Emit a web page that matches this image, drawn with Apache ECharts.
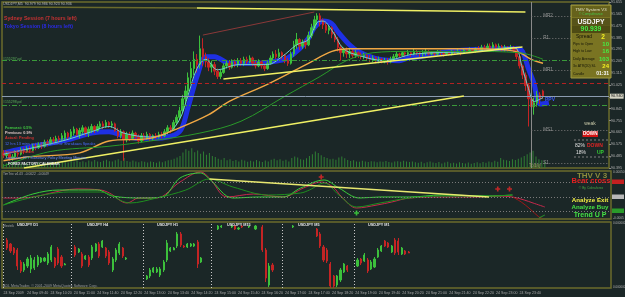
<!DOCTYPE html>
<html><head><meta charset="utf-8">
<script src="https://cdn.jsdelivr.net/npm/echarts@6/dist/echarts.min.js"></script>
<style>html,body{margin:0;padding:0;background:#1b2727;}#c{width:625px;height:297px;}</style>
</head><body><div id="c"></div>
<script>
// ---------- DATA ----------
const timeLabels = ["24 Sep 2009","24 Sep 09:40","24 Sep 10:20","24 Sep 11:00","24 Sep 11:40","24 Sep 12:20","24 Sep 13:00","24 Sep 13:40","24 Sep 14:20","24 Sep 15:00","24 Sep 15:40","24 Sep 16:20","24 Sep 17:00","24 Sep 17:40","24 Sep 18:20","24 Sep 19:00","24 Sep 19:40","24 Sep 20:20","24 Sep 21:00","24 Sep 21:40","24 Sep 22:20","24 Sep 23:00","24 Sep 23:40"];
const priceTicks = {min: 90.395, max: 91.655, step: 0.09};
// M5 bars [open, close, low, high]
const mainBars = [
[90.51,90.49,90.47,90.53],[90.49,90.50,90.47,90.52],[90.50,90.47,90.45,90.51],[90.47,90.48,90.45,90.50],[90.48,90.51,90.47,90.53],
[90.51,90.50,90.48,90.53],[90.50,90.53,90.49,90.55],[90.53,90.52,90.50,90.55],[90.52,90.54,90.51,90.56],[90.54,90.53,90.51,90.56],
[90.53,90.56,90.52,90.58],[90.56,90.55,90.53,90.58],[90.55,90.57,90.54,90.59],[90.57,90.56,90.54,90.59],[90.56,90.59,90.55,90.61],
[90.59,90.58,90.56,90.61],[90.58,90.61,90.57,90.63],[90.61,90.60,90.58,90.63],[90.60,90.62,90.59,90.64],[90.62,90.61,90.59,90.64],
[90.61,90.64,90.60,90.66],
[90.62,90.66,90.60,90.68],[90.66,90.63,90.61,90.67],[90.63,90.67,90.62,90.69],[90.66,90.69,90.64,90.71],[90.69,90.65,90.63,90.70],
[90.65,90.68,90.62,90.70],[90.67,90.70,90.65,90.72],[90.70,90.66,90.64,90.71],[90.66,90.69,90.63,90.71],[90.68,90.71,90.66,90.73],
[90.71,90.68,90.66,90.72],[90.68,90.71,90.67,90.73],[90.71,90.73,90.69,90.75],[90.73,90.71,90.69,90.75],
[90.71,90.74,90.70,90.76],[90.74,90.72,90.70,90.75],[90.72,90.73,90.70,90.75],
[90.73,90.68,90.67,90.74],[90.68,90.64,90.62,90.70],[90.64,90.67,90.62,90.69],[90.67,90.61,90.45,90.68],[90.61,90.65,90.59,90.67],
[90.65,90.62,90.60,90.67],[90.62,90.66,90.61,90.68],[90.66,90.63,90.61,90.67],[90.63,90.60,90.58,90.65],[90.60,90.64,90.59,90.66],
[90.64,90.62,90.60,90.66],[90.62,90.65,90.61,90.67],[90.65,90.63,90.60,90.66],
[90.62,90.64,90.60,90.65],[90.64,90.63,90.61,90.66],[90.63,90.65,90.62,90.67],[90.65,90.64,90.62,90.67],[90.64,90.67,90.63,90.69],
[90.67,90.70,90.65,90.72],[90.70,90.69,90.66,90.72],[90.69,90.74,90.68,90.76],[90.74,90.78,90.72,90.80],[90.78,90.83,90.76,90.86],
[90.83,90.92,90.81,90.95],[90.92,90.98,90.88,91.02],[90.98,91.08,90.95,91.12],[91.08,91.15,91.03,91.20],[91.15,91.22,91.10,91.28],[91.22,91.18,91.12,91.26],
[91.18,91.30,91.15,91.40],[91.30,91.24,91.17,91.38],
[91.24,91.20,91.16,91.27],[91.20,91.16,91.13,91.23],[91.16,91.18,91.12,91.21],[91.18,91.13,91.10,91.20],[91.13,91.09,91.07,91.15],[91.09,91.12,91.07,91.14],
[91.12,91.17,91.11,91.19],[91.17,91.19,91.15,91.21],[91.19,91.16,91.14,91.21],[91.16,91.20,91.15,91.22],[91.20,91.18,91.16,91.22],[91.18,91.21,91.16,91.23],[91.21,91.19,91.17,91.23],
[91.19,91.22,91.17,91.24],[91.22,91.20,91.18,91.24],[91.20,91.23,91.19,91.25],[91.23,91.19,91.17,91.24],[91.19,91.17,91.15,91.21],[91.17,91.20,91.16,91.22],[91.20,91.17,91.15,91.21],[91.17,91.15,91.13,91.19],[91.15,91.19,91.14,91.21],
[91.19,91.23,91.18,91.25],[91.23,91.26,91.21,91.28],[91.26,91.24,91.22,91.29],[91.24,91.27,91.23,91.30],[91.27,91.25,91.22,91.28],
[91.25,91.21,91.19,91.26],[91.21,91.19,91.17,91.23],
[91.19,91.26,91.18,91.28],[91.26,91.33,91.24,91.36],[91.33,91.37,91.30,91.42],
[91.37,91.32,91.29,91.38],[91.32,91.35,91.30,91.37],[91.35,91.33,91.30,91.37],
[91.33,91.40,91.32,91.43],[91.40,91.46,91.38,91.49],[91.46,91.52,91.44,91.55],[91.52,91.55,91.48,91.57],[91.55,91.51,91.47,91.57],
[91.51,91.48,91.45,91.53],[91.48,91.44,91.42,91.50],[91.44,91.46,91.41,91.48],[91.46,91.41,91.38,91.47],[91.41,91.37,91.35,91.43],
[91.37,91.31,91.28,91.39],[91.31,91.27,91.21,91.33],[91.27,91.29,91.24,91.31],
[91.29,91.26,91.23,91.31],[91.26,91.28,91.23,91.30],[91.28,91.25,91.23,91.30],[91.25,91.27,91.23,91.29],
[91.27,91.25,91.23,91.28],[91.25,91.24,91.22,91.27],[91.24,91.25,91.22,91.27],[91.25,91.23,91.21,91.26],[91.23,91.22,91.20,91.25],[91.22,91.23,91.20,91.25],[91.23,91.21,91.19,91.24],
[91.21,91.22,91.19,91.24],[91.22,91.20,91.19,91.23],[91.20,91.21,91.19,91.23],[91.21,91.20,91.18,91.23],[91.20,91.22,91.19,91.24],
[91.22,91.24,91.21,91.26],[91.24,91.26,91.23,91.28],[91.26,91.25,91.23,91.27],[91.25,91.27,91.24,91.28],[91.27,91.26,91.24,91.28],
[91.26,91.27,91.25,91.29],[91.27,91.26,91.24,91.28],[91.26,91.28,91.25,91.30],[91.28,91.27,91.25,91.29],[91.27,91.26,91.24,91.28],[91.26,91.27,91.24,91.29],[91.27,91.28,91.25,91.30],[91.28,91.26,91.25,91.29],[91.26,91.27,91.25,91.28],[91.27,91.26,91.24,91.28],[91.26,91.28,91.25,91.29],[91.28,91.27,91.25,91.29],[91.27,91.26,91.24,91.28],
[91.26,91.27,91.25,91.28],[91.27,91.26,91.25,91.28],[91.26,91.28,91.25,91.29],[91.28,91.27,91.26,91.29],[91.27,91.28,91.26,91.30],[91.28,91.27,91.25,91.29],[91.27,91.29,91.26,91.30],[91.29,91.28,91.27,91.30],[91.28,91.29,91.27,91.31],[91.29,91.28,91.27,91.30],
[91.28,91.30,91.27,91.31],[91.30,91.29,91.28,91.32],[91.29,91.31,91.28,91.33],[91.31,91.30,91.28,91.33],[91.30,91.32,91.29,91.34],[91.32,91.31,91.29,91.34],[91.31,91.33,91.30,91.35],[91.33,91.31,91.29,91.34],[91.31,91.32,91.30,91.34],[91.32,91.30,91.28,91.33],
[91.30,91.31,91.28,91.33],[91.31,91.30,91.28,91.32],[91.30,91.31,91.29,91.33],[91.31,91.29,91.27,91.32],
[91.29,91.24,91.22,91.30],[91.24,91.17,91.15,91.25],[91.17,91.10,91.07,91.18],
[91.10,91.02,90.98,91.12],[91.02,90.92,90.71,91.04],[90.92,90.86,90.66,90.95],[90.86,90.89,90.80,90.93],[90.89,90.95,90.86,90.98],[90.95,90.92,90.88,90.97],[90.98,90.94,90.92,90.99]
];
const volumes = [18,22,15,20,25,17,21,19,24,16,22,20,26,18,23,21,27,19,24,22,28,
30,25,33,28,35,27,31,26,34,29,36,30,27,33,38,31,29,35,40,33,
45,32,28,34,30,26,31,28,25,30,27,24,29,26,31,35,38,42,48,
55,70,85,78,90,72,80,65,75,60,68,55,50,
42,38,45,35,40,32,36,30,38,34,28,33,30,36,31,27,34,29,38,42,35,40,33,37,30,45,52,48,
40,38,44,55,62,75,68,58,
50,45,40,42,38,48,52,44,36,32,35,30,28,33,30,27,31,29,26,30,28,32,27,25,29,31,28,33,30,27,29,26,
24,28,22,26,30,25,23,27,21,25,28,22,24,20,26,23,21,25,19,23,26,22,27,24,30,26,33,28,
45,38,35,32,40,36,42,48,55,62,70,78,52,40,35,30];
// indicator lines on the price chart, [bar, price]
const blueBand = [[0,90.51],[6,90.54],[22,90.61],[30,90.66],[36,90.67],[41,90.64],[46,90.62],[52,90.62],[60,90.67],[63,90.86],[66,91.09],[69,91.24],[72,91.24],[77,91.19],[87,91.19],[94,91.21],[97,91.23],[101,91.30],[104,91.38],[106,91.46],[109,91.51],[112,91.49],[114,91.43],[118,91.33],[121,91.28],[128,91.22],[135,91.21],[138,91.23],[142,91.24],[152,91.28],[169,91.30],[175,91.30],[177,91.28],[179,91.15],[181,91.03],[182,90.92],[183,90.88],[186,90.89]];
const cyanMA = [[0,90.50],[20,90.60],[30,90.67],[36,90.71],[41,90.66],[50,90.63],[56,90.66],[60,90.76],[63,90.95],[66,91.15],[69,91.22],[73,91.14],[80,91.18],[90,91.18],[95,91.24],[100,91.33],[104,91.37],[107,91.50],[109,91.51],[112,91.44],[116,91.30],[121,91.25],[130,91.21],[140,91.26],[160,91.28],[174,91.31],[177,91.15],[179,91.00],[181,90.90],[184,90.93]];
const orangeMA = [[0,90.45],[9,90.48],[26,90.51],[36,90.60],[50,90.62],[60,90.70],[70,90.80],[77,90.90],[90,91.03],[104,91.19],[112,91.28],[118,91.30],[135,91.30],[159,91.30],[172,91.29],[176,91.27],[180,91.22],[184,91.19]];
const greenMA = [[0,90.41],[16,90.52],[36,90.56],[50,90.60],[67,90.66],[81,90.75],[96,90.94],[108,91.09],[117,91.21],[126,91.27],[138,91.28],[159,91.28],[176,91.27],[184,91.22]];
const trendLow = [[7,90.395],[157,90.941]];
const trendMid = [[75,91.070],[177,91.313]];
const trendTop = [[66,91.609],[178,91.579]];
const trendTopLeft = [[0,91.617],[66,91.609]];
const channelRed = [[68,91.404],[106,91.579]];
const levels = {green1: 91.207, red1: 91.040, price: 90.940, green2: 90.866};
const pivots = [["MR2",91.549],["R1",91.382],["MR1",91.139],["MS1",90.683],["S1",90.433]];
const dayStart = 180;
// oscillator pane, [bar, value]
const oscRed = [[0,-1],[6,-1],[25,8],[33,7],[36,4],[42,-6],[46,-1],[52,-1],[60,15],[67,25],[70,19],[76,0],[85,3],[95,0],[102,9],[108,15],[112,10],[115,0],[120,-11],[127,-8],[132,-5],[138,-1],[149,0],[161,0],[168,1],[173,0],[177,-3],[180,-6],[184,-10]];
const oscDarkRed = [[173,0],[176,-5],[179,-12],[182,-20],[183,-21]];
const oscGreen = [[0,-8],[10,3],[19,7],[32,7],[37,1],[47,-1],[54,0],[60,19],[67,24],[70,18],[78,-1],[87,0],[95,0],[101,9],[109,17],[114,9],[121,-1],[128,0],[138,0],[149,2],[165,1],[173,2]];
const oscGreen2 = [[0,-8],[22,5],[33,5],[43,-6],[52,-1],[62,7],[70,18],[78,10],[90,2],[101,4],[104,7],[109,14],[114,2],[120,-10],[128,-6],[138,-1],[149,1],[165,1],[173,2]];
const oscGreenTail = [[182,-21],[184,-18]];
const oscYellow = [[70,18],[165,0]];
const redCrosses = [[108,20],[168,8],[172,8]];
const greenCrosses = [[120,-16]];
const oscLevels = [15,0,-14];
// multi-timeframe mini bars [open, close, low, high]
const miniD1 = [[48,40,38,50],[44,37,35,45],[40,35,33,41],[38,22,18,40],[26,17,15,28],[18,24,16,26],[22,29,20,31],[19,30,15,33],[20,28,18,31],[23,31,21,33],[26,30,25,31],[27,30,26,31],[25,34,23,36],[28,41,26,43],[30,22,20,31],[39,25,23,41],[31,22,20,33],[23,24,23,25]];
const miniH4 = [[41,33,31,43],[36,39,35,40],[34,22,20,36],[29,32,28,33],[31,23,21,33],[30,41,28,43],[37,44,36,45],[44,32,30,46],[41,47,40,48],[40,32,30,41],[36,25,23,38],[18,29,16,31],[28,38,26,40],[35,44,33,46],[40,32,30,41],[29,30,28,31]];
const miniH1 = [[9,12,8,13],[12,18,10,20],[16,20,15,21],[16,19,15,21],[13,19,11,21],[18,26,16,28],[28,45,26,48],[37,40,36,41],[38,40,38,41],[42,54,40,56],[54,43,41,56],[42,41,40,43],[41,44,40,45],[42,44,41,45],[42,44,41,45],[46,24,20,48],[26,30,25,31]];
const miniM15 = [[59,62,58,63],[61,62,60,63],null,null,[61,62,60,63],[62,59,58,63],[59,60,58,61],[62,61,60,63],null,[61,62,60,62],null,[59,62,58,63],null,[61,38,36,63],[38,10,6,40],[3,22,1,25],[23,18,16,25]];
const miniM5 = [[61,62,60,63],null,null,null,null,null,null,[59,52,51,60],[54,42,40,56],[41,28,26,43],[38,27,25,40],[24,2,0,26],[12,2,0,13],[3,12,1,13],[8,18,6,20],[16,24,15,25],[22,18,16,23]];
const miniM1 = [[22,28,21,30],[29,25,23,30],[27,33,26,35],[28,17,15,30],[19,26,18,28],[21,29,20,31],[31,38,30,40],[37,42,36,43],[47,42,41,48],[45,41,40,46],[36,42,35,43],[48,35,33,50],[47,36,33,50],[34,40,33,41],[37,34,33,38],[36,35,35,37]];
const miniNames = ["USDJPY D1","USDJPY H4","USDJPY H1","USDJPY M15","USDJPY M5","USDJPY M1"];

// ---------- LAYOUT / BUILD ----------
const N = 207, MINI_N = 179;
const cats = Array.from({length:N},(_,i)=>i);
const miniCats = Array.from({length:MINI_N},(_,i)=>i);
const miniStarts = [1,21,42,63,85,104];
const miniSep = [0,20,41,61,82,103];
const miniItems = [];
[miniD1,miniH4,miniH1,miniM15,miniM5,miniM1].forEach((arr,k)=>{
  arr.forEach((b,j)=>{ if(b) miniItems.push([miniStarts[k]+j, b[0], b[1], b[2], b[3]]); });
});
const UP='#3cc03c', DN='#c42424';
const FF='Liberation Sans, Arial, sans-serif';
function T(x,y,text,fill,size,weight,align){return {type:'text',x:x,y:y,silent:true,z:100,style:{text:text,fill:fill,fontSize:size,fontWeight:weight||'normal',fontFamily:FF,align:align||'left',verticalAlign:'middle'}};}
function R(x,y,w,h,fill,stroke){return {type:'rect',silent:true,z:95,shape:{x:x,y:y,width:w,height:h},style:{fill:fill,stroke:stroke||null,lineWidth:1}};}
function L(x1,y1,x2,y2,stroke,dash){return {type:'line',silent:true,z:95,shape:{x1:x1,y1:y1,x2:x2,y2:y2},style:{stroke:stroke,lineWidth:1,lineDash:dash||null}};}
function line(data,color,width,xi,yi,z,smooth){return {type:'line',data:data,xAxisIndex:xi,yAxisIndex:yi,showSymbol:false,smooth:smooth===undefined?0.35:smooth,z:z||4,silent:true,animation:false,lineStyle:{color:color,width:width}};}

const pivotLines = pivots.map(p=>[
  {coord:[dayStart,p[1]],lineStyle:{color:'#7a7a7a',type:[1,2],width:1},label:{show:true,position:'insideStart',distance:12,formatter:p[0],color:'#9a9a9a',fontSize:4.5,fontFamily:FF}},
  {coord:[N-1,p[1]]}
]);

const graphics = [
  T(3,4,'USDJPY,M5  90.979 90.986 90.923 90.936','#b8b8b8',3.6),
  T(4,19,'Sydney Session (7 hours left)','#c83232',5.2,'bold'),
  T(4,27,'Tokyo Session (8 hours left)','#2a2ae6',5.2,'bold'),
  T(3,59,'#155297.pd','#5aaa5a',3.5),
  T(3,102.5,'#155298.pd','#5aaa5a',3.5),
  T(5,128,'Forecast: 0.5%','#40c840',3.8,'bold'),
  T(5,133,'Previous: 0.9%','#e0c8c8',3.8,'bold'),
  T(5,138,'Actual: Pending','#d03030',3.8,'bold'),
  T(5,143.5,'12 hrs 13 mins until JPY Governor Shirakawa Speaks','#4a6aff',3.8),
  T(5,152,'Impact: Medium','#d03030',3.8,'bold'),
  T(5,158,'Japanese JPY Monetary Policy Meeting Minutes','#6a8aff',3.8),
  T(8,164,'FOREX FACTORY CALENDAR','#e8e8e8',3.6,'bold'),
  T(545,100,'PPV','#3a58ff',5,'bold'),
  T(529,165.5,'Today','#9a9a5a',4.5),
  // TMV panel
  R(571,5,40,73,'#7a7422','#a29c42'),
  R(572,6,38,11,'#66621c'),
  R(572,18,38,7.5,'#56531a'),
  R(572,25.5,38,7.5,'#4e4b14'),
  T(591,9.5,'TMV System V3','#e0e0c4',4.3,'normal','center'),
  T(591,14.5,'\u00a9 Compufinance','#48c848',3.2,'normal','center'),
  T(591,22,'USDJPY','#f4f4f4',6.8,'bold','center'),
  T(591,29.5,'90.939','#44f044',6.8,'bold','center'),
  T(576,37,'Spread','#141408',5,'normal'),
  T(603,37,'2','#f4f020',6.5,'bold','center'),
  T(573,44,'Pips to Open','#141408',3.5),
  T(609,44,'10','#44f044',6,'bold','right'),
  T(573,51,'High to Low','#141408',3.5),
  T(609,51,'16','#44f044',6,'bold','right'),
  T(573,59,'Daily Average','#141408',3.5),
  T(609,59,'103','#44f044',6,'bold','right'),
  T(573,66,'3x ATR(20) SL','#141408',3.5),
  T(609,66,'24','#f4f020',6,'bold','right'),
  T(573,74,'Candle','#141408',3.5),
  T(609,74,'01:31','#f4f4f4',5,'bold','right'),
  // trend box
  T(590,124,'weak','#c8c8a8',5,'normal','center'),
  R(582.5,131,15.5,6,'#d41414'),
  T(590.2,134.2,'DOWN','#ffffff',4.6,'bold','center'),
  L(574,140,611,140,'#808080',[2,2]),
  T(575,146,'82%','#e0e0e0',5),
  T(587,146,'DOWN','#e02424',5,'bold'),
  T(576,153,'18%','#e0e0e0',5),
  T(597,153,'UP','#34d034',5,'bold'),
  L(574,157,611,157,'#808080',[2,2]),
  // oscillator pane
  T(3,174,'TimTrix v4.43  -0.0022  -0.0049','#a8a8a8',3.3),
  T(592,175.5,'THV V 3','#8c8c3c',8,'bold','center'),
  T(591,181,'Bear cross','#e02020',7.5,'bold','center'),
  T(591,188,'\u00a9 By Cobraforex','#44a044',3.3,'normal','center'),
  T(590,200,'Analyze Exit','#f4f044',6.2,'bold','center'),
  T(590,207,'Analyze Buy','#44e044',6.2,'bold','center'),
  T(590,215,'Trend U P','#44e044',7,'bold','center'),
  T(613,172.5,'0.00050','#b0b0b0',3.2),
  R(612,179.5,12,4.5,'#c42020'),
  R(612,194.5,12,4.5,'#b8b8b8'),
  R(612,208.5,12,4.5,'#2a9a2a'),
  T(613,218,'-0.0005','#b0b0b0',3.2),
  // mini charts pane
  T(3,226,'Electrik','#a8a8a8',3.3),
  T(17,225,miniNames[0],'#e8e8e8',3.8,'bold'),
  T(87,225,miniNames[1],'#e8e8e8',3.8,'bold'),
  T(157,225,miniNames[2],'#e8e8e8',3.8,'bold'),
  T(227,225,miniNames[3],'#e8e8e8',3.8,'bold'),
  T(298,225,miniNames[4],'#e8e8e8',3.8,'bold'),
  T(368,225,miniNames[5],'#e8e8e8',3.8,'bold'),
  T(3,286,'ADL MetaTrader, \u00a9 2001-2009 MetaQuotes Software Corp.','#9a9a9a',3.6),
  T(613,223.5,'0.000000','#b0b0b0',3),
  T(613,287,'0.000000','#b0b0b0',3)
];

const crossSym = 'path://M2,0H4V2H6V4H4V6H2V4H0V2H2Z';
const option = {
  backgroundColor:'#1b2727',
  animation:false,
  grid:[
    {left:2,right:14,top:2,height:166,show:true,borderColor:'#6c6c2c',borderWidth:1.5,backgroundColor:'transparent'},
    {left:2,right:14,top:146,height:22,show:false},
    {left:2,right:14,top:171,height:48,show:true,borderColor:'#6c6c2c',borderWidth:1.5},
    {left:2,right:14,top:222,height:66,show:true,borderColor:'#6c6c2c',borderWidth:1.5}
  ],
  xAxis:[
    {type:'category',gridIndex:0,data:cats,boundaryGap:true,offset:121,axisLine:{show:false},axisTick:{show:false},splitLine:{show:false},
      axisLabel:{interval:0,margin:1.5,fontSize:3.6,color:'#a8a8a8',fontFamily:FF,align:'left',
        formatter:(v,idx)=> (idx%8===0 && timeLabels[idx/8]) ? timeLabels[idx/8] : ''}},
    {type:'category',gridIndex:1,data:cats,boundaryGap:true,show:false},
    {type:'category',gridIndex:2,data:cats,boundaryGap:true,show:false},
    {type:'category',gridIndex:3,data:miniCats,boundaryGap:true,show:false}
  ],
  yAxis:[
    {type:'value',gridIndex:0,position:'right',min:priceTicks.min,max:priceTicks.max,interval:priceTicks.step,
      axisLine:{show:false},axisTick:{show:true,length:2,lineStyle:{color:'#8a8a8a'}},splitLine:{show:false},
      axisLabel:{margin:2,fontSize:3.6,color:'#b4b4b4',fontFamily:FF,formatter:v=>v.toFixed(3)}},
    {type:'value',gridIndex:1,min:0,max:100,show:false},
    {type:'value',gridIndex:2,min:-22,max:26,show:false},
    {type:'value',gridIndex:3,min:0,max:66,show:false}
  ],
  graphic:graphics,
  series:[
    {type:'bar',xAxisIndex:1,yAxisIndex:1,data:volumes,barWidth:1,z:1,silent:true,itemStyle:{color:'#2f7e34'}},
    Object.assign(line(blueBand,'#1f30ee',5,0,0,2,0.3),{lineStyle:{color:'#1f30ee',width:5,opacity:0.95}}),
    {type:'candlestick',xAxisIndex:0,yAxisIndex:0,data:mainBars,barWidth:2,z:3,silent:true,
      itemStyle:{color:UP,color0:DN,borderColor:UP,borderColor0:DN,borderWidth:1},
      markLine:{symbol:'none',silent:true,animation:false,label:{show:false},
        data:[
          {yAxis:levels.green1,lineStyle:{color:'#3a9a3a',type:[5,2,1,2],width:1}},
          {yAxis:levels.red1,lineStyle:{color:'#b42222',type:[4,3],width:1}},
          {yAxis:levels.price,lineStyle:{color:'#8c9cb0',type:'solid',width:1},
            label:{show:true,position:'end',distance:1,formatter:'90.940',color:'#101010',backgroundColor:'#d4d4c4',fontSize:3.8,padding:[1,1,0,1],fontFamily:FF}},
          {yAxis:levels.green2,lineStyle:{color:'#3a9a3a',type:[5,2,1,2],width:1}},
          {xAxis:dayStart,lineStyle:{color:'#8a8a8a',type:'solid',width:1}}
        ].concat(pivotLines)}},
    line(cyanMA,'#70d0d0',1,0,0,4),
    line(orangeMA,'#f0a844',1.4,0,0,4),
    line(greenMA,'#2a9a2a',1,0,0,4),
    line(trendLow,'#f0f064',1.5,0,0,5,false),
    line(trendMid,'#f0f064',1.5,0,0,5,false),
    line(trendTop,'#f0f064',1.5,0,0,5,false),
    line(trendTopLeft,'#6a6a2c',1.5,0,0,5,false),
    line(channelRed,'#8a3838',1,0,0,5,false),
    Object.assign(line(oscRed,'#c8284c',1,2,2,4),{markLine:{symbol:'none',silent:true,animation:false,label:{show:false},
      data:oscLevels.map(v=>({yAxis:v,lineStyle:{color:'#7a7a7a',type:[1,2],width:1}}))}}),
    line(oscDarkRed,'#a01818',1,2,2,4),
    line(oscGreen,'#3ad03a',1,2,2,4),
    line(oscGreen2,'#1f8f1f',1,2,2,4),
    line(oscGreenTail,'#2a9a2a',1,2,2,4),
    line(oscYellow,'#e8e870',1.5,2,2,5,false),
    {type:'scatter',xAxisIndex:2,yAxisIndex:2,data:redCrosses,symbol:crossSym,symbolSize:5,itemStyle:{color:'#e82828'},z:6,silent:true},
    {type:'scatter',xAxisIndex:2,yAxisIndex:2,data:greenCrosses,symbol:crossSym,symbolSize:5,itemStyle:{color:'#40e040'},z:6,silent:true},
    {type:'candlestick',xAxisIndex:3,yAxisIndex:3,data:miniItems,encode:{x:0,y:[1,2,3,4]},barWidth:1.6,z:3,silent:true,
      itemStyle:{color:UP,color0:DN,borderColor:UP,borderColor0:DN,borderWidth:1},
      markLine:{symbol:'none',silent:true,animation:false,label:{show:false},
        data:miniSep.map(s=>({xAxis:s,lineStyle:{color:'#c8c8c8',type:[1,2],width:1}}))}}
  ]
};
const chart = echarts.init(document.getElementById('c'),null,{renderer:'canvas',width:625,height:297});
chart.setOption(option);
</script>
</body></html>
